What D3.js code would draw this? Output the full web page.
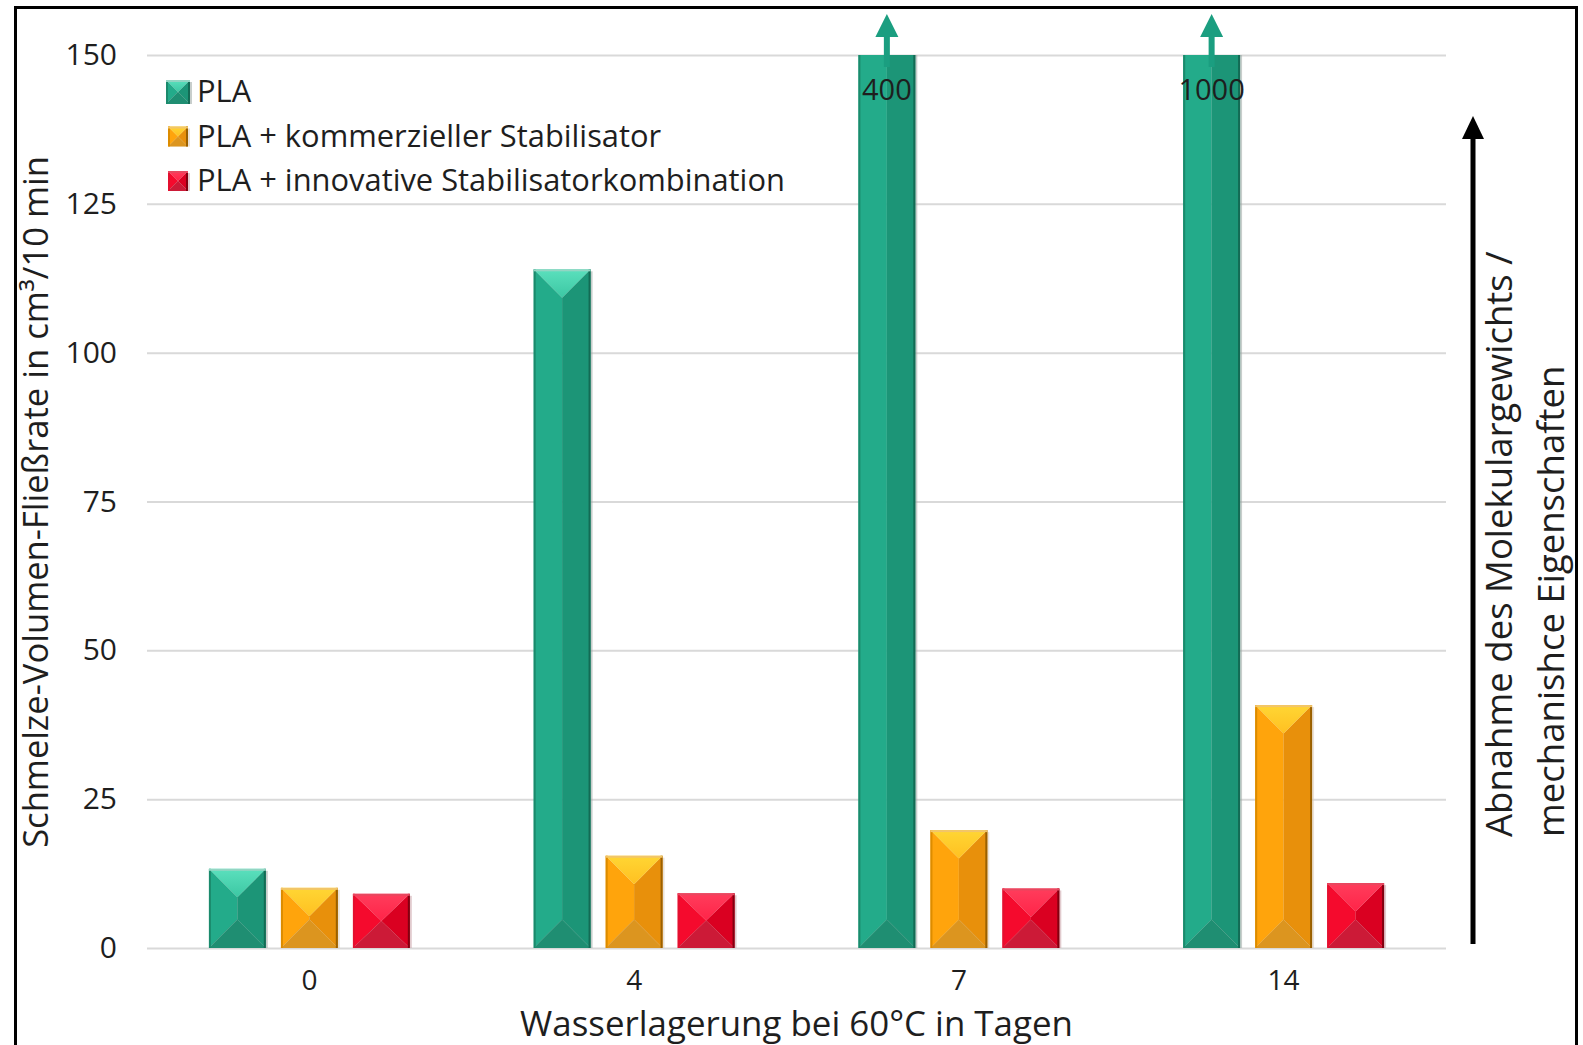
<!DOCTYPE html>
<html>
<head>
<meta charset="utf-8">
<script src="https://cdn.jsdelivr.net/npm/d3@7"></script>
<style>
  body { margin: 0; background: #fff; }
  svg { display: block; }
  text { font-family: "Open Sans", "Noto Sans", sans-serif; fill: #1e1e1e; }
</style>
</head>
<body>
<svg id="chart" width="1583" height="1045"></svg>
<script>
// ---- data ----
const categories = ["0", "4", "7", "14"];
const seriesNames = ["PLA", "PLA + kommerzieller Stabilisator", "PLA + innovative Stabilisatorkombination"];
const plaValues = [13.3, 114, 400, 1000];
const commercialValues = [10.1, 15.5, 19.8, 40.8];
const innovativeValues = [9.1, 9.2, 10.0, 10.9];
const yTicks = [0, 25, 50, 75, 100, 125, 150];
const yMax = 150;
const xTitle = "Wasserlagerung bei 60°C in Tagen";
const yTitle = "Schmelze-Volumen-Fließrate in cm³/10 min";
const sideNote = ["Abnahme des Molekulargewichts /", "mechanishce Eigenschaften"];

const seriesValues = [plaValues, commercialValues, innovativeValues];

// bevel palettes: top face (light -> less light), left, right, bottom, edges
const palettes = [
  { top: ["#5be0bd", "#3cc7a3"], left: "#23ab8a", right: "#1c9577", bottom: "#1f8e72",
    edgeL: "#1b8a6c", edgeR: "#136b54", edgeT: "#93d5c3", shadow: "#9aa6a2" },
  { top: ["#ffd634", "#ffc021"], left: "#ffa40c", right: "#e8900b", bottom: "#dc951f",
    edgeL: "#dc8c00", edgeR: "#9a6000", edgeT: "#f2c56a", shadow: "#d9cbb8" },
  { top: ["#ff3d5c", "#ff2448"], left: "#f50a2d", right: "#da0021", bottom: "#cc1a37",
    edgeL: "#e3102f", edgeR: "#820010", edgeT: "#e8475f", shadow: "#c9a0a6" }
];

// ---- layout ----
const svg = d3.select("#chart");
const plot = { left: 147, right: 1446, top: 55, bottom: 948 };

const x0 = d3.scaleBand().domain(categories).range([plot.left, plot.right]).padding(0);
const x1 = d3.scaleBand().domain(seriesNames).range([0, x0.bandwidth()])
  .paddingInner(0.21).paddingOuter(0.86);
const y = d3.scaleLinear().domain([0, yMax]).range([plot.bottom, plot.top]);

// outer frame
svg.append("rect")
  .attr("x", 15.5).attr("y", 7.5).attr("width", 1561).attr("height", 1080)
  .attr("fill", "none").attr("stroke", "#000").attr("stroke-width", 3);

// gradients for the top faces
const defs = svg.append("defs");
palettes.forEach((p, i) => {
  const lg = defs.append("linearGradient").attr("id", "topGrad" + i)
    .attr("x1", 0).attr("y1", 0).attr("x2", 0).attr("y2", 1);
  lg.append("stop").attr("offset", "0%").attr("stop-color", p.top[0]);
  lg.append("stop").attr("offset", "100%").attr("stop-color", p.top[1]);
});
defs.append("clipPath").attr("id", "plotClip")
  .append("rect")
  .attr("x", plot.left - 5).attr("y", plot.top)
  .attr("width", plot.right - plot.left + 10).attr("height", plot.bottom - plot.top);

// gridlines + y tick labels
const yAxis = svg.append("g")
  .attr("transform", `translate(${plot.left},0)`)
  .call(d3.axisLeft(y).tickValues(yTicks).tickSize(-(plot.right - plot.left)).tickPadding(30));
yAxis.select(".domain").remove();
yAxis.selectAll(".tick line").attr("stroke", "#d9d9d9").attr("stroke-width", 2);
yAxis.selectAll(".tick text")
  .style("font-family", '"Open Sans", sans-serif')
  .style("font-size", "30px").attr("fill", "#1e1e1e");

// x category labels
const xAxis = svg.append("g")
  .attr("transform", `translate(0,${plot.bottom})`)
  .call(d3.axisBottom(x0).tickSize(0).tickPadding(22));
xAxis.select(".domain").remove();
xAxis.selectAll(".tick text")
  .style("font-family", '"Open Sans", sans-serif')
  .style("font-size", "28px").attr("fill", "#1e1e1e");

// beveled bar: four faces meeting along the centre line
function bevelPolys(x, yTop, w, base) {
  const h = base - yTop;
  const d = Math.min(w / 2, h / 2);
  const cx = x + w / 2;
  return {
    left: [[x, yTop], [cx, yTop + d], [cx, base - d], [x, base]],
    right: [[x + w, yTop], [cx, yTop + d], [cx, base - d], [x + w, base]],
    bottom: [[x, base], [x + w, base], [cx, base - d]],
    top: [[x, yTop], [x + w, yTop], [cx, yTop + d]]
  };
}
const pts = p => p.map(q => q.join(",")).join(" ");

function drawBar(g, x, yTop, w, base, pi) {
  const p = palettes[pi];
  const f = bevelPolys(x, yTop, w, base);
  g.append("rect").attr("x", x + 2).attr("y", yTop + 2).attr("width", w)
    .attr("height", Math.max(0, base - yTop - 2)).attr("fill", p.shadow).attr("opacity", 0.55);
  g.append("polygon").attr("points", pts(f.left)).attr("fill", p.left);
  g.append("polygon").attr("points", pts(f.right)).attr("fill", p.right);
  g.append("polygon").attr("points", pts(f.bottom)).attr("fill", p.bottom);
  g.append("polygon").attr("points", pts(f.top)).attr("fill", `url(#topGrad${pi})`);
  g.append("rect").attr("x", x).attr("y", yTop).attr("width", 2)
    .attr("height", base - yTop).attr("fill", p.edgeL);
  g.append("rect").attr("x", x + w - 2).attr("y", yTop).attr("width", 2)
    .attr("height", base - yTop).attr("fill", p.edgeR);
  g.append("rect").attr("x", x).attr("y", yTop).attr("width", w)
    .attr("height", 2).attr("fill", p.edgeT);
}

const bars = svg.append("g").attr("clip-path", "url(#plotClip)");
categories.forEach((c, ci) => {
  seriesNames.forEach((s, si) => {
    const v = seriesValues[si][ci];
    const bx = x0(c) + x1(s);
    drawBar(bars, bx, y(v), x1.bandwidth(), y(0), si);
  });
});

// values beyond the axis: label inside the bar top and an arrow pointing up
const overflow = svg.append("g");
categories.forEach((c, ci) => {
  seriesNames.forEach((s, si) => {
    const v = seriesValues[si][ci];
    if (v <= yMax) return;
    const cx = x0(c) + x1(s) + x1.bandwidth() / 2;
    const yTopAxis = y(yMax);
    overflow.append("rect")
      .attr("x", cx - 3).attr("y", yTopAxis - 19).attr("width", 6).attr("height", 31)
      .attr("fill", "#1b9e80");
    overflow.append("polygon")
      .attr("points", pts([[cx, yTopAxis - 41], [cx - 11.5, yTopAxis - 18], [cx + 11.5, yTopAxis - 18]]))
      .attr("fill", "#1b9e80");
    overflow.append("text")
      .attr("x", cx).attr("y", yTopAxis + 45)
      .attr("text-anchor", "middle")
      .style("font-size", "29px").attr("fill", "#141414")
      .text(d3.format("d")(v));
  });
});

// legend
const legend = svg.append("g");
const symbolSizes = [24, 20, 20];
seriesNames.forEach((s, i) => {
  const cy = 92 + i * 44.5;
  const sz = symbolSizes[i];
  drawBar(legend, 178 - sz / 2, cy - sz / 2, sz, cy + sz / 2, i);
  legend.append("text")
    .attr("class", "legendText")
    .attr("x", 197).attr("y", cy + 10)
    .style("font-size", "28px").attr("fill", "#1e1e1e")
    .text(s);
});

// scale a group of texts so the reference line has the given width
function fitFont(sel, refNode, target) {
  const cur = parseFloat(d3.select(refNode).style("font-size"));
  const len = refNode.getComputedTextLength();
  const size = cur * target / len;
  sel.style("font-size", size + "px");
}
const legendTexts = legend.selectAll(".legendText");
fitFont(legendTexts, legendTexts.nodes()[2], 588);

// axis titles
const xt = svg.append("text")
  .attr("x", (plot.left + plot.right) / 2).attr("y", 1035.5)
  .attr("text-anchor", "middle").style("font-size", "34px").attr("fill", "#1a1a1a")
  .text(xTitle);
fitFont(xt, xt.node(), 553);

const yt = svg.append("text")
  .attr("transform", "translate(48,502) rotate(-90)")
  .attr("text-anchor", "middle").style("font-size", "34px").attr("fill", "#1a1a1a")
  .text(yTitle);
fitFont(yt, yt.node(), 692);

// side note with upward arrow
svg.append("rect").attr("x", 1470.5).attr("y", 134).attr("width", 5).attr("height", 810).attr("fill", "#000");
svg.append("polygon")
  .attr("points", pts([[1473, 116], [1462, 139], [1484, 139]]))
  .attr("fill", "#000");
const notes = svg.append("g");
sideNote.forEach((line, i) => {
  notes.append("text")
    .attr("transform", `translate(${1512 + i * 52},837) rotate(-90)`)
    .attr("text-anchor", "start").style("font-size", "34px").attr("fill", "#1a1a1a")
    .text(line);
});
const noteTexts = notes.selectAll("text");
fitFont(noteTexts, noteTexts.nodes()[0], 586);
</script>
</body>
</html>
